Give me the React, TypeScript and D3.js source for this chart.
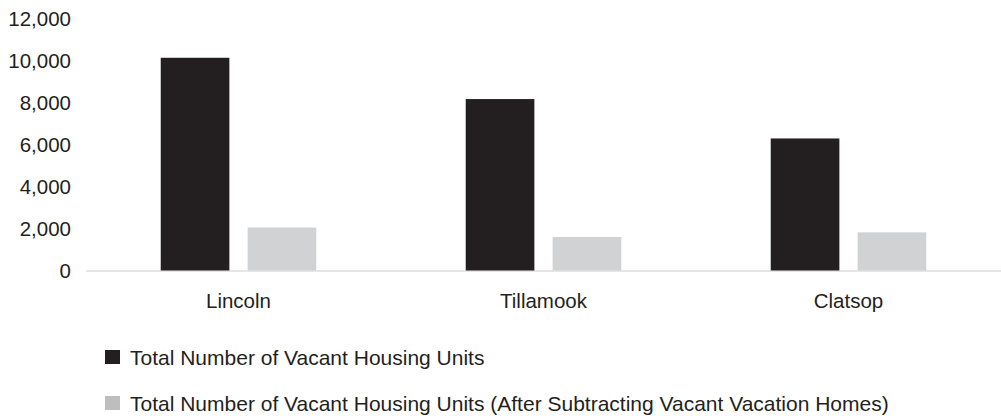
import React from "react";
import * as d3 from "d3";

const categories = ["Lincoln", "Tillamook", "Clatsop"];
const seriesNames = [
  "Total Number of Vacant Housing Units",
  "Total Number of Vacant Housing Units (After Subtracting Vacant Vacation Homes)",
];
const totalVacant = [10150, 8180, 6300];
const afterVacation = [2050, 1600, 1820];
const yTicks = [0, 2000, 4000, 6000, 8000, 10000, 12000];

const W = 1001;
const H = 416;
const barColors = ["#231f20", "#d1d2d4"];
const legendColors = ["#231f20", "#bcbec0"];
const FONT = "'Liberation Sans', Arial, Helvetica, sans-serif";
const FS = 20.5;
const LFS = 21;

export default function App() {
  const x0 = d3
    .scaleBand<string>()
    .domain(categories)
    .range([86, 1001])
    .paddingInner(0.49)
    .paddingOuter(0.245);
  const x1 = d3
    .scaleBand<number>()
    .domain([0, 1])
    .range([0, x0.bandwidth()])
    .paddingInner(0.21);
  const y = d3.scaleLinear().domain([0, 12000]).range([270.5, 19]);
  const fmt = d3.format(",");
  const series = [totalVacant, afterVacation];

  return (
    <svg
      width={W}
      height={H}
      style={{ position: "absolute", left: 0, top: 0, background: "#fff" }}
      fontFamily={FONT}
    >
      {yTicks.map((t) => (
        <text
          key={t}
          x={71}
          y={y(t) + 7.3}
          textAnchor="end"
          fontSize={FS}
          fill="#231f20"
        >
          {fmt(t)}
        </text>
      ))}
      <line x1={86} x2={1001} y1={y(0) + 0.5} y2={y(0) + 0.5} stroke="#e6e6e7" strokeWidth={2} />
      {categories.map((c, i) => (
        <g key={c}>
          {series.map((s, si) => (
            <rect
              key={si}
              x={(x0(c) as number) + (x1(si) as number)}
              y={y(s[i])}
              width={x1.bandwidth()}
              height={y(0) - y(s[i])}
              fill={barColors[si]}
            />
          ))}
          <text
            x={(x0(c) as number) + x0.bandwidth() / 2}
            y={308}
            textAnchor="middle"
            fontSize={FS}
            fill="#231f20"
          >
            {c}
          </text>
        </g>
      ))}
      {seriesNames.map((n, i) => (
        <g key={n} transform={`translate(105, ${350 + i * 46})`}>
          <rect width={15} height={14} fill={legendColors[i]} />
          <text x={25} y={14.5} fontSize={LFS} fill="#231f20">
            {n}
          </text>
        </g>
      ))}
    </svg>
  );
}
